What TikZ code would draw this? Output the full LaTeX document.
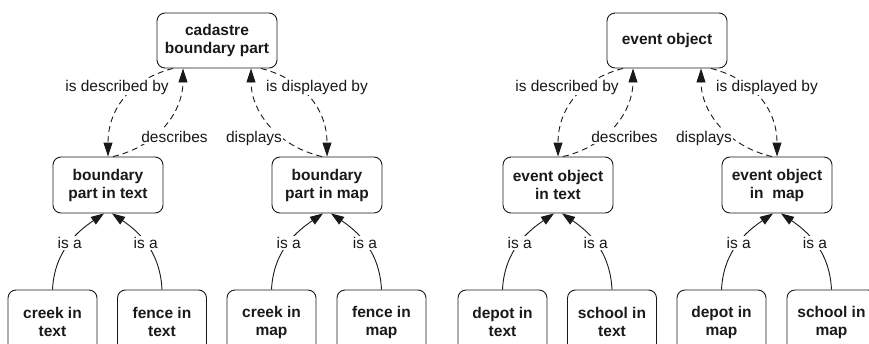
\documentclass[tikz,border=0pt]{standalone}
\usepackage{fontspec}
\setmainfont{Liberation Sans}
\usetikzlibrary{arrows.meta}
\tikzset{
  box/.style={draw=black!90, line width=0.9pt, rounded corners=8pt, align=center,
    font=\fontsize{15.5}{18}\selectfont\bfseries, inner sep=0pt, text=black!90},
  topbox/.style={box, minimum width=120pt, minimum height=55pt},
  midbox/.style={box, minimum width=110pt, minimum height=56pt},
  leafbox/.style={box, minimum width=89pt, minimum height=64pt},
  lbl/.style={font=\fontsize{15.5}{18}\selectfont, fill=white, inner sep=1pt, text=black!90},
  rel/.style={draw=black!90, line width=0.9pt, dash pattern=on 6pt off 4pt,
    -{Triangle[length=14pt,width=9pt]}},
  isa/.style={draw=black!90, line width=0.9pt, -{Triangle[length=13pt,width=9pt]}},
}
\newcommand\halfdiagram[9]{%
  \begin{scope}[xshift=#2pt]
    \node[topbox] (#1t) at (217,40.5) {#3};
    \node[midbox] (#1a) at (108,185) {#4};
    \node[midbox] (#1b) at (327,185) {#5};
    \node[leafbox] (#1a1) at (52.5,322) {#6};
    \node[leafbox] (#1a2) at (162,322) {#7};
    \node[leafbox] (#1b1) at (271.5,322) {#8};
    \node[leafbox] (#1b2) at (381.5,322) {#9};
    \draw[rel] ([xshift=-44pt]#1t.south) .. controls +(-43,11) and +(0,-47) .. (#1a.north)
      node[lbl] at (117,87) {is described by};
    \draw[rel] ([xshift=5pt]#1a.north) .. controls +(47,-11) and +(0,41) .. ([xshift=-34pt]#1t.south)
      node[lbl] at (174.5,137) {describes};
    \draw[rel] ([xshift=-5pt]#1b.north) .. controls +(-47,-11) and +(0,41) .. ([xshift=34pt]#1t.south)
      node[lbl] at (254,138) {displays};
    \draw[rel] ([xshift=44pt]#1t.south) .. controls +(43,11) and +(0,-47) .. (#1b.north)
      node[lbl] at (317,87) {is displayed by};
    \draw[isa] (#1a1.north) .. controls +(2,-40) and +(-25,17) .. ([xshift=-4pt]#1a.south)
      node[lbl,pos=0.5] {is a};
    \draw[isa] (#1a2.north) .. controls +(-2,-40) and +(25,17) .. ([xshift=4pt]#1a.south)
      node[lbl,pos=0.5] {is a};
    \draw[isa] (#1b1.north) .. controls +(2,-40) and +(-25,17) .. ([xshift=-4pt]#1b.south)
      node[lbl,pos=0.5] {is a};
    \draw[isa] (#1b2.north) .. controls +(-2,-40) and +(25,17) .. ([xshift=4pt]#1b.south)
      node[lbl,pos=0.5] {is a};
  \end{scope}}
\begin{document}
\begin{tikzpicture}[x=1pt,y=-1pt]
  \useasboundingbox (0,0) rectangle (869,343);
  \clip (0,0) rectangle (869,343);
  \halfdiagram{L}{0}{cadastre\\boundary part}{boundary\\part in text}{boundary\\part in map}{creek in\\text}{fence in\\text}{creek in\\map}{fence in\\map}
  \halfdiagram{R}{450}{event object}{event object\\in text}{event object\\in\ \ map}{depot in\\text}{school in\\text}{depot in\\map}{school in\\map}
\end{tikzpicture}
\end{document}
